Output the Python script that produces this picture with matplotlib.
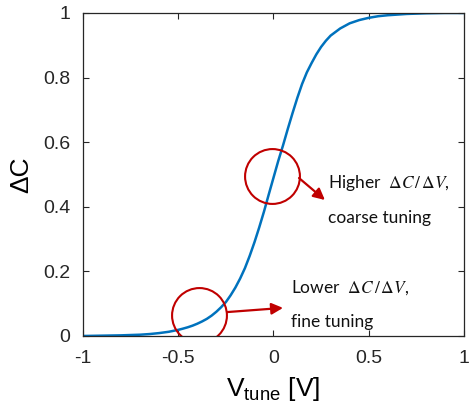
import numpy as np
import matplotlib
matplotlib.use("Agg")
import matplotlib.pyplot as plt

# curve
v_tune = [-1.0, -0.9, -0.8, -0.7, -0.65, -0.6, -0.55, -0.5, -0.475, -0.45, -0.425,
          -0.4, -0.375, -0.35, -0.325, -0.3, -0.275, -0.25, -0.225, -0.2, -0.175,
          -0.15, -0.125, -0.1, -0.075, -0.05, -0.025, 0.0, 0.025, 0.05, 0.075,
          0.1, 0.125, 0.15, 0.175, 0.2, 0.225, 0.25, 0.275, 0.3, 0.35, 0.4,
          0.45, 0.5, 0.55, 0.6, 0.65, 0.7, 0.8, 0.9, 1.0]
delta_c = [0.0, 0.001, 0.002, 0.004, 0.006, 0.009, 0.013, 0.019, 0.0228, 0.027, 0.032,
           0.038, 0.045, 0.053, 0.063, 0.075, 0.089, 0.105, 0.126, 0.15, 0.178,
           0.21, 0.248, 0.29, 0.336, 0.385, 0.438, 0.49, 0.542, 0.59, 0.641,
           0.69, 0.737, 0.78, 0.816, 0.845, 0.872, 0.895, 0.914, 0.93, 0.952, 0.968,
           0.978, 0.985, 0.99, 0.993, 0.995, 0.997, 0.999, 1.0, 1.0]

# highlighted regions
circle_x = [-0.01, -0.39]
circle_y = [0.494, 0.065]

# arrows (start, tip)
arrow_start = [(0.134, 0.489), (-0.244, 0.074)]
arrow_tip = [(0.270, 0.421), (0.050, 0.087)]

xticks = [-1, -0.5, 0, 0.5, 1]
yticks = [0, 0.2, 0.4, 0.6, 0.8, 1]

red = "#C00000"
plt.rcParams["mathtext.rm"] = "Liberation Sans"

fig = plt.figure(figsize=(4.7, 4.08), dpi=100)
ax = fig.add_axes([0.1766, 0.1765, 0.8106, 0.7917])

ax.plot(v_tune, delta_c, color="#0072BD", lw=1.8)
ax.plot(circle_x, circle_y, "o", ms=39.5, mfc="none", mec=red, mew=1.5)

for s, t in zip(arrow_start, arrow_tip):
    ax.annotate("", xy=t, xytext=s,
                arrowprops=dict(arrowstyle="-|>", color=red, lw=1.6,
                                mutation_scale=17, shrinkA=0, shrinkB=0))

tf = dict(fontsize=12.5, family="Lato", va="center", ha="left", color="#111111",
          math_fontfamily="stix")
ax.text(0.286, 0.474, r"Higher  $\Delta C\,/\,\Delta V$,", **tf)
ax.text(0.286, 0.365, "coarse tuning", **tf)
ax.text(0.092, 0.149, r"Lower  $\Delta C\,/\,\Delta V$,", **tf)
ax.text(0.092, 0.043, "fine tuning", **tf)

ax.set_xlim(-1, 1)
ax.set_ylim(0, 1)
ax.set_xticks(xticks)
ax.set_xticklabels(["-1", "-0.5", "0", "0.5", "1"])
ax.set_yticks(yticks)
ax.set_yticklabels(["0", "0.2", "0.4", "0.6", "0.8", "1"])
ax.tick_params(direction="in", length=4, width=0.8, top=True, right=True,
               labelsize=14, colors="#262626")
ax.tick_params(axis="x", pad=10)
ax.tick_params(axis="y", pad=9)
for lab in ax.get_xticklabels() + ax.get_yticklabels():
    lab.set_family("Liberation Sans")
for sp in ax.spines.values():
    sp.set_color("#262626")
    sp.set_linewidth(0.9)

ax.set_xlabel(r"V$_{\mathrm{tune}}$ [V]", fontsize=19, family="Liberation Sans",
              math_fontfamily="custom", labelpad=6)
ax.set_ylabel("ΔC", fontsize=19, family="Liberation Sans", labelpad=7)

fig.savefig("out.png", dpi=100)
